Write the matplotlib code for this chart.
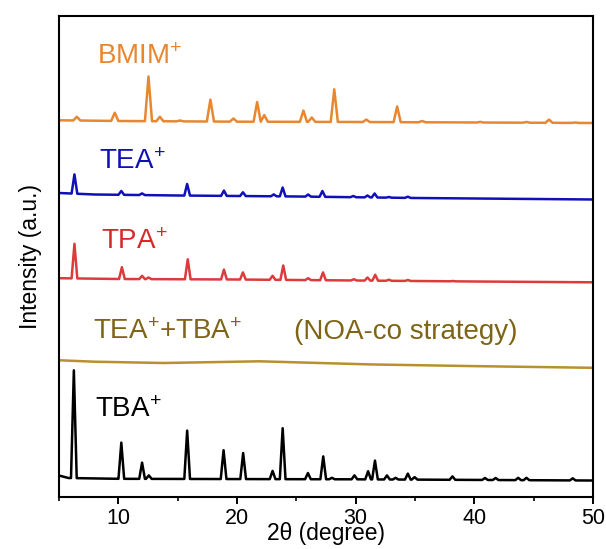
import numpy as np
import matplotlib
matplotlib.use('Agg')
import matplotlib.pyplot as plt
from matplotlib.ticker import MultipleLocator

plt.rcParams['font.family'] = ['Liberation Sans', 'DejaVu Sans']
plt.rcParams['mathtext.fontset'] = 'custom'
plt.rcParams['mathtext.rm'] = 'Liberation Sans'
plt.rcParams['mathtext.default'] = 'regular'

# ---------------------  data (peak positions / apex intensity, baseline anchors)

tba_pos = [6.25, 10.25, 12.0, 12.57, 15.8, 18.87, 20.52, 23.0, 23.85, 25.98, 27.27, 28.0,
           29.9, 31.05, 31.63, 32.64, 33.37, 34.4, 34.97, 38.16, 40.9, 41.8, 43.7, 44.4, 48.3]
tba_top = [126.2, 53.9, 33.9, 21.1, 65.9, 46.3, 43.5, 25.6, 68.3, 23.5, 40.1, 18.7,
           21.1, 25.3, 35.9, 21.1, 18.7, 22.9, 19.4, 20.1, 18.5, 18.5, 18.7, 18.7, 18.2]
tba_bx = [5, 5.8, 10, 30, 50]
tba_by = [21.0, 18.5, 17.7, 17.2, 16.0]

mix_bx = [5.08, 8.0, 13.8, 21.9, 31.2, 39.9, 50]
mix_by = [136.2, 134.8, 133.5, 135.2, 132.1, 130.4, 128.7]

tpa_pos = [6.3, 10.3, 12.0, 12.55, 15.85, 18.9, 20.5, 23.0, 23.9, 26.0, 27.25, 29.85,
           31.0, 31.65, 32.8, 34.4, 38.2]
tpa_top = [252.7, 229.3, 220.7, 219.0, 237.2, 226.9, 224.1, 220.7, 231.0, 218.3, 224.1, 217.3,
           219.0, 221.7, 216.8, 216.5, 215.5]
tpa_bx = [5, 10, 20, 30, 40, 50]
tpa_by = [218.3, 217.5, 217.0, 216.0, 215.0, 214.2]

tea_pos = [6.3, 10.25, 12.0, 15.8, 18.9, 20.5, 23.1, 23.85, 26.0, 27.2, 29.8, 31.0,
           31.6, 32.8, 34.4]
tea_top = [322.1, 305.5, 303.1, 312.5, 305.9, 304.2, 302.1, 309.0, 302.0, 305.5, 300.5, 301.0,
           303.0, 299.5, 299.8]
tea_bx = [5, 8, 15, 25, 35, 50]
tea_by = [303.5, 302.0, 301.0, 300.0, 298.5, 297.0]

bmim_pos = [6.5, 9.7, 12.54, 13.5, 15.2, 17.76, 19.7, 21.7, 22.3, 25.6, 26.3, 28.2,
            30.9, 33.5, 35.6, 40.5, 44.4, 46.3, 48.5]
bmim_top = [379.7, 383.8, 420.0, 379.7, 376.0, 396.9, 378.0, 394.5, 381.4, 385.9, 379.0, 407.2,
            376.9, 390.0, 375.5, 374.6, 374.5, 376.9, 374.0]
bmim_bx = [5, 10, 20, 30, 40, 50]
bmim_by = [376.2, 375.5, 374.8, 374.5, 374.0, 373.5]

labels = ['BMIM$^{+}$', 'TEA$^{+}$', 'TPA$^{+}$', 'TEA$^{+}$+TBA$^{+}$', 'TBA$^{+}$']
note = '(NOA-co strategy)'

# ---------------------

def pattern(pos, top, bx, by, w):
    pts = []
    for p, t in zip(pos, top):
        pts.append((p - w, np.interp(p - w, bx, by)))
        pts.append((p, t))
        pts.append((p + w, np.interp(p + w, bx, by)))
    for x0, y0 in zip(bx, by):
        if all(abs(x0 - p) > w for p in pos):
            pts.append((x0, y0))
    pts.sort()
    return [q[0] for q in pts], [q[1] for q in pts]

fig = plt.figure(figsize=(6.06, 5.49), dpi=100)
ax = fig.add_axes([0.0974, 0.0956, 0.881, 0.8753])

lw = 1.8
x, y = pattern(tba_pos, tba_top, tba_bx, tba_by, 0.24)
ax.plot(x, y, color='black', lw=lw)
ax.plot(mix_bx, mix_by, color='#B8912E', lw=lw)
x, y = pattern(tpa_pos, tpa_top, tpa_bx, tpa_by, 0.24)
ax.plot(x, y, color='#DD3B3B', lw=lw)
x, y = pattern(tea_pos, tea_top, tea_bx, tea_by, 0.24)
ax.plot(x, y, color='#1010B8', lw=lw)
x, y = pattern(bmim_pos, bmim_top, bmim_bx, bmim_by, 0.3)
ax.plot(x, y, color='#E8872F', lw=lw)

fs = 20
ax.text(8.2, 439.5, labels[0], color='#E8872F', fontsize=fs, va='center')
ax.text(8.4, 334.0, labels[1], color='#1010B8', fontsize=fs, va='center')
ax.text(8.55, 254.5, labels[2], color='#D42A2A', fontsize=fs, va='center')
ax.text(7.85, 164.8, labels[3], color='#7E6416', fontsize=fs, va='center')
ax.text(24.8, 164.8, note, color='#7E6416', fontsize=fs, va='center')
ax.text(8.0, 86.5, labels[4], color='black', fontsize=fs, va='center')

ax.set_xlim(5, 50)
ax.set_ylim(0, 480.5)
ax.set_yticks([])
ax.xaxis.set_major_locator(MultipleLocator(10))
ax.xaxis.set_minor_locator(MultipleLocator(5))
ax.tick_params(axis='x', which='major', direction='out', length=5, width=1.4, labelsize=15.5, pad=3)
ax.tick_params(axis='x', which='minor', direction='out', length=3, width=1.2)
for s in ax.spines.values():
    s.set_linewidth(1.5)
ax.set_xlabel('2θ (degree)', fontsize=16.5, labelpad=-5)
ax.set_ylabel('Intensity (a.u.)', fontsize=16.5, labelpad=12)

fig.savefig('out.png', dpi=100)
